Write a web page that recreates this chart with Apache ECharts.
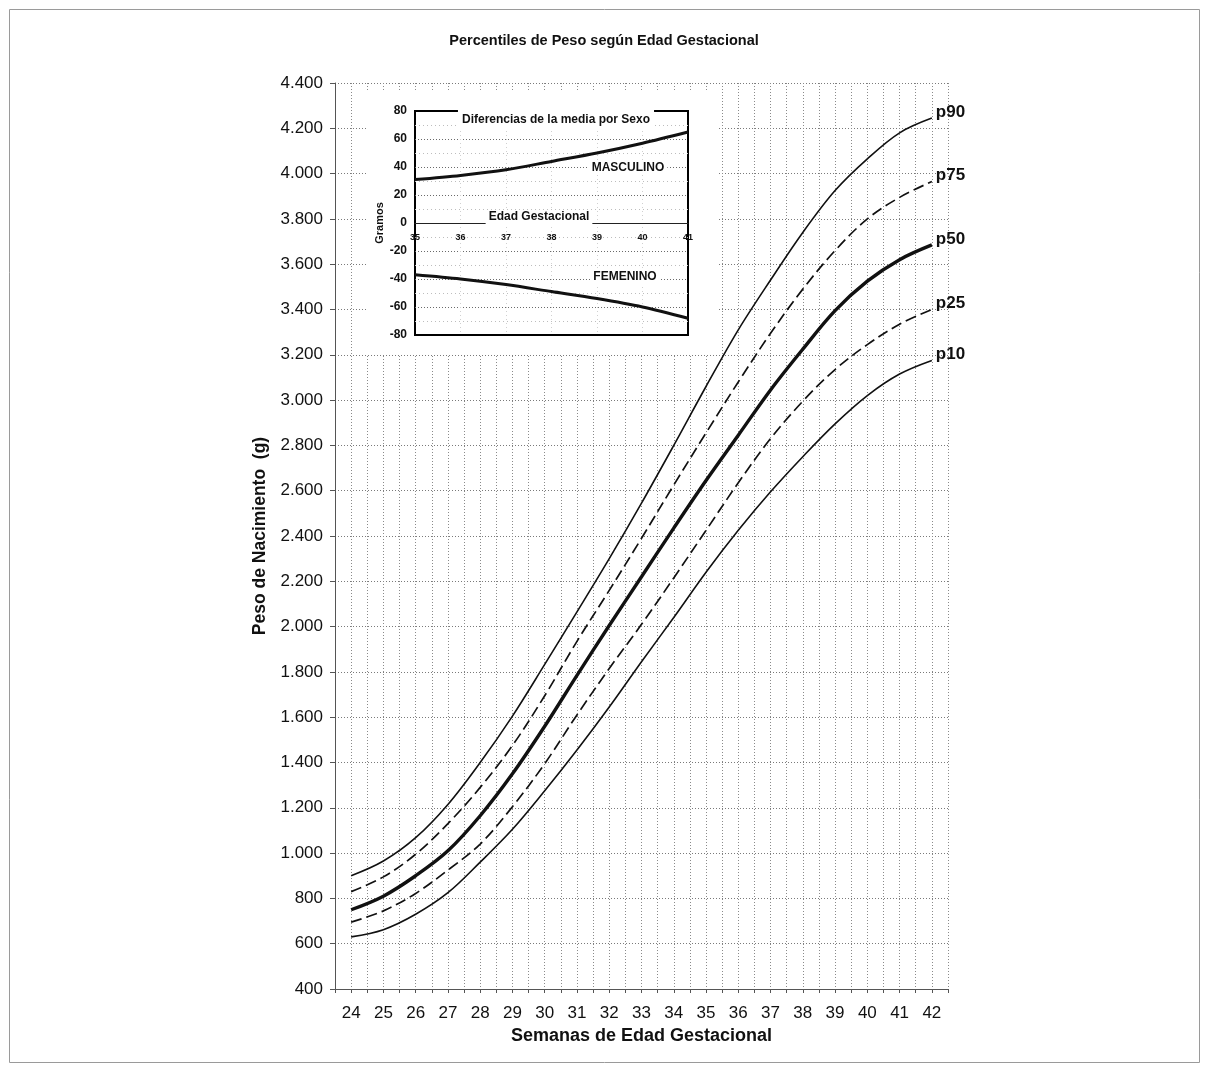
<!DOCTYPE html>
<html>
<head>
<meta charset="utf-8">
<title>Percentiles de Peso según Edad Gestacional</title>
<script src="https://cdn.jsdelivr.net/npm/echarts@6/dist/echarts.min.js"></script>
<style>
  html, body { margin: 0; padding: 0; background: #fff; }
  #chart { width: 1208px; height: 1072px; }
</style>
</head>
<body>
<div id="chart"></div>
<script>
// ==============================================================
// data (grams, by gestational week)
// ==============================================================
var weeks = [24, 25, 26, 27, 28, 29, 30, 31, 32, 33, 34, 35, 36, 37, 38, 39, 40, 41, 42];
var p10 = [630, 662, 730, 825, 960, 1105, 1275, 1455, 1645, 1845, 2040, 2240, 2425, 2595, 2750, 2895, 3020, 3115, 3175];
var p25 = [695, 745, 822, 925, 1040, 1205, 1395, 1610, 1815, 2010, 2215, 2425, 2635, 2830, 2995, 3135, 3245, 3335, 3400];
var p50 = [750, 810, 900, 1010, 1165, 1350, 1560, 1785, 2005, 2220, 2435, 2645, 2845, 3045, 3225, 3395, 3525, 3620, 3685];
var p75 = [830, 895, 995, 1130, 1290, 1475, 1695, 1935, 2160, 2390, 2625, 2855, 3080, 3295, 3490, 3660, 3800, 3895, 3965];
var p90 = [900, 965, 1068, 1215, 1400, 1605, 1833, 2065, 2300, 2545, 2800, 3060, 3310, 3530, 3740, 3925, 4065, 4180, 4245];

// inset: difference from the mean by sex
var insetWeeks = [35, 36, 37, 38, 39, 40, 41];
var masculino = [31, 34, 38, 44, 50, 57, 65];
var femenino = [-37, -40, -44, -49, -54, -60, -68];

var FONT = 'Liberation Sans, Arial, sans-serif';
var INK = '#111';

function pairs(xs, ys) {
    return xs.map(function (x, i) { return [x, ys[i]]; });
}

// 4400 -> "4.400"
function miles(v) {
    if (Math.abs(v) < 1000) return String(v);
    var s = String(Math.abs(v));
    return (v < 0 ? '-' : '') + s.slice(0, s.length - 3) + '.' + s.slice(s.length - 3);
}

function pLine(name, data, width, dashed) {
    return {
        name: name,
        type: 'line',
        xAxisIndex: 0,
        yAxisIndex: 0,
        data: pairs(weeks, data),
        smooth: 0.35,
        showSymbol: false,
        silent: true,
        z: 2,
        lineStyle: { color: INK, width: width, type: dashed ? [11, 5] : 'solid' },
        endLabel: {
            show: true,
            formatter: '{a}',
            color: INK,
            fontFamily: FONT,
            fontWeight: 'bold',
            fontSize: 17,
            distance: 4,
            offset: [0, -6]
        }
    };
}

var chart = echarts.init(document.getElementById('chart'), null, { renderer: 'canvas' });

var option = {
    backgroundColor: '#fff',
    animation: false,
    title: [
        {
            text: 'Percentiles de Peso según Edad Gestacional',
            left: 'center',
            top: 33,
            padding: 0,
            textStyle: { fontFamily: FONT, fontSize: 14.5, fontWeight: 'bold', color: INK }
        },
        {
            text: 'Diferencias de la media por Sexo',
            left: 552,
            textAlign: 'center',
            top: 103,
            padding: [10, 4, 4, 4],
            backgroundColor: '#fff',
            z: 8,
            textStyle: { fontFamily: FONT, fontSize: 12, fontWeight: 'bold', color: INK, lineHeight: 13 }
        }
    ],
    graphic: [
        // frame around the whole figure
        { type: 'rect', shape: { x: 9.5, y: 9.5, width: 1190, height: 1053 },
          style: { fill: 'none', stroke: '#9a9a9a', lineWidth: 1 }, z: 0, silent: true },
        // white panel under the inset
        { type: 'rect', shape: { x: 366, y: 92, width: 352, height: 263 },
          style: { fill: '#fff' }, z: 1, silent: true },
        { type: 'text', x: 539, y: 217, z: 9, silent: true,
          style: { text: 'Edad Gestacional', fill: INK, font: 'bold 12px ' + FONT,
                   align: 'center', verticalAlign: 'middle', backgroundColor: '#fff', padding: [1, 3] } },
        { type: 'text', x: 628, y: 168, z: 9, silent: true,
          style: { text: 'MASCULINO', fill: INK, font: 'bold 12px ' + FONT,
                   align: 'center', verticalAlign: 'middle', backgroundColor: '#fff', padding: [1, 3] } },
        { type: 'text', x: 625, y: 277, z: 9, silent: true,
          style: { text: 'FEMENINO', fill: INK, font: 'bold 12px ' + FONT,
                   align: 'center', verticalAlign: 'middle', backgroundColor: '#fff', padding: [1, 3] } }
    ],
    grid: [
        { left: 335, right: 260, top: 83, bottom: 83 },
        { left: 415, right: 520, top: 111, bottom: 737, show: true,
          borderColor: '#000', borderWidth: 2, backgroundColor: 'transparent', z: 4 }
    ],
    xAxis: [
        {
            type: 'value',
            gridIndex: 0,
            min: 23.5,
            max: 42.5,
            interval: 0.5,
            name: 'Semanas de Edad Gestacional',
            nameLocation: 'middle',
            nameGap: 35,
            nameTextStyle: { fontFamily: FONT, fontSize: 18, fontWeight: 'bold', color: INK },
            axisLine: { show: true, lineStyle: { color: '#555', width: 1 } },
            axisTick: { show: true, length: 4, lineStyle: { color: '#555' } },
            axisLabel: {
                margin: 16,
                fontFamily: FONT,
                fontSize: 17,
                color: INK,
                formatter: function (v) { return Number.isInteger(v) ? String(v) : ''; }
            },
            splitLine: { show: true, lineStyle: { color: '#8a8a8a', width: 1, type: [1, 2] } }
        },
        {
            type: 'value',
            gridIndex: 1,
            min: 35,
            max: 41,
            interval: 1,
            z: 4,
            position: 'bottom',
            offset: -112,
            axisLine: { show: true, onZero: false, lineStyle: { color: '#222', width: 1 } },
            axisTick: { show: false },
            axisLabel: { margin: 10, fontFamily: FONT, fontSize: 9, fontWeight: 'bold', color: INK },
            splitLine: { show: true, showMinLine: false, showMaxLine: false,
                         lineStyle: { color: '#d0d0d0', width: 1, type: [1, 3] } }
        }
    ],
    yAxis: [
        {
            type: 'value',
            gridIndex: 0,
            min: 400,
            max: 4400,
            interval: 200,
            name: 'Peso de Nacimiento  (g)',
            nameLocation: 'middle',
            nameGap: 63,
            nameTextStyle: { fontFamily: FONT, fontSize: 17.5, fontWeight: 'bold', color: INK },
            axisLine: { show: true, lineStyle: { color: '#555', width: 1 } },
            axisTick: { show: true, length: 5, lineStyle: { color: '#555' } },
            axisLabel: { margin: 12, fontFamily: FONT, fontSize: 17, color: INK, formatter: miles },
            splitLine: { show: true, lineStyle: { color: '#7a7a7a', width: 1, type: [1, 2] } }
        },
        {
            type: 'value',
            gridIndex: 1,
            min: -80,
            max: 80,
            interval: 20,
            z: 4,
            name: 'Gramos',
            nameLocation: 'middle',
            nameGap: 29,
            nameTextStyle: { fontFamily: FONT, fontSize: 11, fontWeight: 'bold', color: INK },
            axisLine: { show: false },
            axisTick: { show: false },
            axisLabel: { margin: 8, fontFamily: FONT, fontSize: 12, fontWeight: 'bold', color: INK },
            splitLine: { show: true, showMinLine: false, showMaxLine: false,
                         lineStyle: { color: '#6a6a6a', width: 1, type: [1, 2] } },
            minorTick: { show: false, splitNumber: 2 },
            minorSplitLine: { show: true, lineStyle: { color: '#bdbdbd', width: 1, type: [1, 3] } }
        }
    ],
    series: [
        pLine('p90', p90, 1.6, false),
        pLine('p75', p75, 1.7, true),
        pLine('p50', p50, 3.4, false),
        pLine('p25', p25, 1.7, true),
        pLine('p10', p10, 1.6, false),
        {
            name: 'MASCULINO',
            type: 'line',
            xAxisIndex: 1,
            yAxisIndex: 1,
            data: pairs(insetWeeks, masculino),
            smooth: 0.3,
            showSymbol: false,
            silent: true,
            z: 6,
            lineStyle: { color: INK, width: 3 }
        },
        {
            name: 'FEMENINO',
            type: 'line',
            xAxisIndex: 1,
            yAxisIndex: 1,
            data: pairs(insetWeeks, femenino),
            smooth: 0.3,
            showSymbol: false,
            silent: true,
            z: 6,
            lineStyle: { color: INK, width: 3 }
        }
    ]
};

chart.setOption(option, true);
</script>
</body>
</html>
